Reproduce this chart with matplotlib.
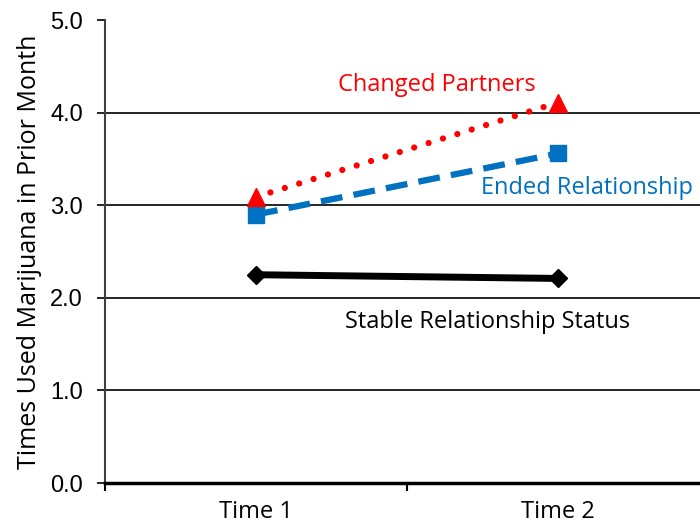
import matplotlib.pyplot as plt

# Data
times = ["Time 1", "Time 2"]
changed_partners = [3.09, 4.11]
ended_relationship = [2.90, 3.56]
stable_status = [2.25, 2.21]
y_ticks = [0.0, 1.0, 2.0, 3.0, 4.0, 5.0]

RED = "#ff0000"
BLUE = "#0070c0"

fig = plt.figure(figsize=(7, 5.26), dpi=100)
# axes runs past the right edge, as in the reference
ax = fig.add_axes([0.15, 0.0817, 0.863, 0.880])

xpos = [0.5, 1.5]

# horizontal gridlines at 1..4
for y in y_ticks[1:-1]:
    ax.axhline(y, color="black", lw=1.2, zorder=1)

ax.plot(xpos, stable_status, color="black", lw=5, marker="D", ms=9,
        zorder=3)
ax.plot(xpos, ended_relationship, color=BLUE, lw=4.5, ls=(0, (3.5, 1.8)),
        marker="s", ms=12, zorder=3)
ax.plot(xpos, changed_partners, color=RED, lw=4.5, ls=(0, (0.01, 2.4)),
        dash_capstyle="round", marker="^", ms=13, zorder=4)

label_font = "Open Sans"
ax.text(1.10, 4.30, "Changed Partners", color=RED, fontsize=17,
        family=label_font, ha="center", va="center")
ax.text(1.245, 3.19, "Ended Relationship", color=BLUE, fontsize=17,
        family=label_font, ha="left", va="center")
ax.text(0.795, 1.74, "Stable Relationship Status", color="black",
        fontsize=17, family=label_font, ha="left", va="center")

ax.set_xlim(0, 2)
ax.set_ylim(0, 5)

ax.set_yticks(y_ticks)
ax.set_yticklabels([f"{v:.1f}" for v in y_ticks], family="Liberation Sans",
                   fontsize=17)
ax.tick_params(axis="y", direction="out", length=6, width=1.2, pad=10)

ax.set_xticks([0, 1, 2])
ax.set_xticklabels([])
ax.set_xticks(xpos, minor=True)
ax.set_xticklabels(times, minor=True, family=label_font, fontsize=17)
ax.tick_params(axis="x", which="major", direction="out", length=6, width=1.5)
ax.tick_params(axis="x", which="minor", length=0, pad=12)

ax.set_ylabel("Times Used Marijuana in Prior Month", family=label_font,
              fontsize=18, labelpad=6)

for side in ["top", "right"]:
    ax.spines[side].set_visible(False)
ax.spines["left"].set_linewidth(1.5)
ax.spines["left"].set_color("#404040")
ax.spines["bottom"].set_linewidth(2.5)

fig.savefig("out.png", dpi=100)
